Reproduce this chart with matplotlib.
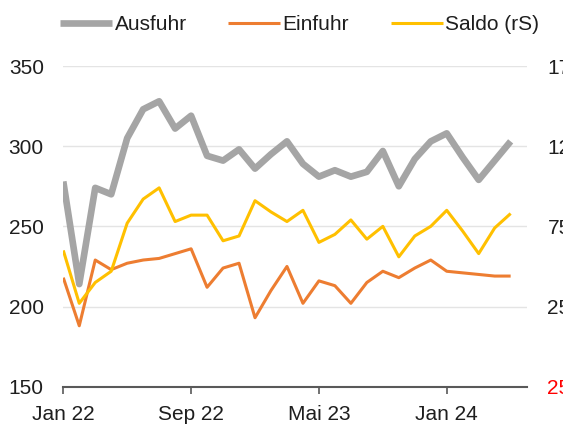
import numpy as np
import matplotlib.pyplot as plt

plt.rcParams['font.family'] = ['Liberation Sans', 'DejaVu Sans']

# monthly values, Jan 22 .. Mai 24
ausfuhr = [278, 214, 274, 270, 305, 323, 328, 311, 319, 294, 291, 298, 286, 295, 303,
           289, 281, 285, 281, 284, 297, 275, 292, 303, 308, 293, 279, 291, 303]
einfuhr = [218, 188, 229, 223, 227, 229, 230, 233, 236, 212, 224, 227, 193, 210, 225,
           202, 216, 213, 202, 215, 222, 218, 224, 229, 222, 221, 220, 219, 219]
saldo = [60, 27, 40, 47, 77, 92, 99, 78, 82, 82, 66, 69, 91, 84, 78,
         85, 65, 70, 79, 67, 75, 56, 69, 75, 85, 72, 58, 74, 83]

tick_pos = [0, 8, 16, 24]
tick_labels = ['Jan 22', 'Sep 22', 'Mai 23', 'Jan 24']
left_ticks = [150, 200, 250, 300, 350]
right_ticks = [-25, 25, 75, 125, 175]

grey = '#a5a5a5'
orange = '#ed7d31'
yellow = '#ffc000'
fs = 15

fig = plt.figure(figsize=(5.63, 4.25), dpi=100)
ax = fig.add_axes([0.1124, 0.0901, 0.823, 0.7546])
ax2 = ax.twinx()

x = np.arange(len(ausfuhr))
l1, = ax.plot(x, ausfuhr, color=grey, lw=4.8, solid_capstyle='butt', label='Ausfuhr', zorder=3)
l2, = ax.plot(x, einfuhr, color=orange, lw=2.2, solid_capstyle='butt', label='Einfuhr', zorder=3)
l3, = ax2.plot(x, saldo, color=yellow, lw=2.2, solid_capstyle='butt', label='Saldo (rS)', zorder=3)

ax.set_xlim(0, 29)
ax.set_ylim(150, 350)
ax2.set_ylim(-25, 175)

ax.set_yticks(left_ticks)
ax.grid(axis='y', color='#e4e4e4', lw=1)
ax.set_axisbelow(True)
ax.set_xticks(tick_pos)
ax.set_xticklabels(tick_labels)

ax.tick_params(axis='y', length=0, pad=14, labelsize=fs, labelcolor='#1e1e1e')
ax.tick_params(axis='x', length=5, width=1.2, color='#595959', pad=8, labelsize=fs, labelcolor='#1e1e1e')

ax2.set_yticks(right_ticks)
ax2.set_yticklabels([str(abs(t)) for t in right_ticks])
ax2.tick_params(axis='y', length=0, pad=15, labelsize=fs, labelcolor='#1e1e1e')
for t, lab in zip(right_ticks, ax2.get_yticklabels()):
    if t < 0:
        lab.set_color('#ff0000')

for a in [ax, ax2]:
    for s in ['top', 'left', 'right', 'bottom']:
        a.spines[s].set_visible(False)
ax.spines['bottom'].set_visible(True)
ax.spines['bottom'].set_color('#595959')
ax.spines['bottom'].set_linewidth(1.5)

fig.legend(handles=[l1, l2, l3], loc='center', bbox_to_anchor=(0.532, 0.942), ncol=3,
           frameon=False, fontsize=fs, handlelength=2.5, handletextpad=0.1,
           columnspacing=2.0, labelcolor='#1e1e1e')

fig.savefig('out.png', dpi=100)
